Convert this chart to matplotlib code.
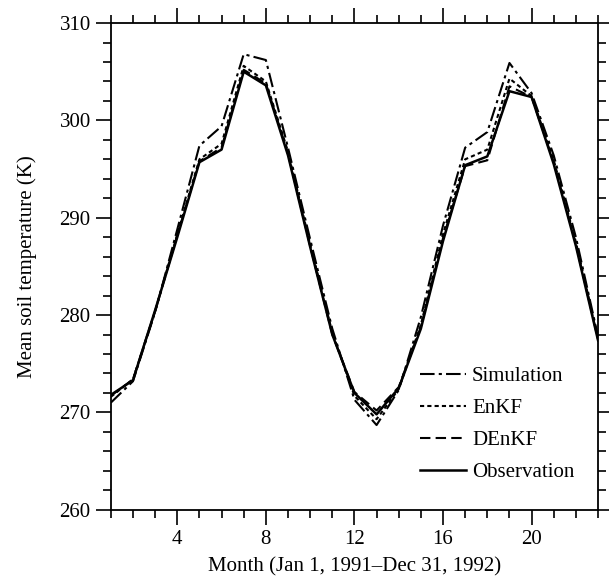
import numpy as np
import matplotlib.pyplot as plt
from matplotlib.ticker import MultipleLocator

plt.rcParams['font.family'] = ['Liberation Serif', 'DejaVu Serif']

months = np.arange(1, 24)
simulation = [271.0, 273.2, 280.3, 288.8, 297.4, 299.4, 306.8, 306.2, 297.2, 287.8, 278.6,
              271.3, 268.7, 272.3, 279.8, 289.2, 297.2, 298.8, 305.9, 302.8, 296.4, 288.0, 277.8]
enkf = [271.6, 273.4, 280.4, 288.3, 296.0, 297.6, 305.6, 304.0, 296.8, 287.3, 278.2,
        271.7, 269.3, 272.4, 279.0, 288.3, 296.0, 297.0, 304.3, 302.5, 295.9, 287.5, 277.6]
denkf = [271.7, 273.4, 280.4, 288.2, 295.8, 297.2, 305.2, 303.8, 296.6, 287.1, 278.0,
         272.1, 270.2, 272.6, 278.8, 287.9, 295.3, 295.9, 303.5, 302.4, 295.7, 287.3, 277.5]
observation = [271.8, 273.3, 280.5, 288.0, 295.7, 297.0, 305.0, 303.6, 296.4, 287.0, 278.0,
               272.0, 269.8, 272.5, 278.6, 287.6, 295.4, 296.3, 303.0, 302.4, 295.5, 287.1, 277.4]

fig = plt.figure(figsize=(6.09, 5.76), dpi=100)
ax = fig.add_axes([0.182, 0.115, 0.8, 0.845])

ax.plot(months, simulation, color='black', lw=1.5, dashes=(7, 2, 1.5, 2), label='Simulation')
ax.plot(months, enkf, color='black', lw=1.5, dashes=(2, 1.5), label='EnKF')
ax.plot(months, denkf, color='black', lw=1.5, dashes=(5, 2.5), label='DEnKF')
ax.plot(months, observation, color='black', lw=1.8, label='Observation')

ax.set_xlim(1, 23)
ax.set_ylim(260, 310)
ax.xaxis.set_major_locator(MultipleLocator(4))
ax.xaxis.set_minor_locator(MultipleLocator(1))
ax.yaxis.set_major_locator(MultipleLocator(10))
ax.yaxis.set_minor_locator(MultipleLocator(2))
ax.tick_params(which='both', direction='out', top=True, right=True, labelsize=15, width=1.2)
ax.tick_params(which='major', length=11)
ax.tick_params(which='minor', length=5.5)
for s in ax.spines.values():
    s.set_linewidth(1.3)

ax.set_xlabel('Month (Jan 1, 1991\u2013Dec 31, 1992)', fontsize=15, labelpad=6)
ax.set_ylabel('Mean soil temperature (K)', fontsize=15, labelpad=16)

ax.legend(loc='lower right', bbox_to_anchor=(0.99, 0.018), frameon=False, fontsize=15,
          handlelength=2.2, handletextpad=0.3, labelspacing=0.6)

fig.savefig('out.png', dpi=100)
